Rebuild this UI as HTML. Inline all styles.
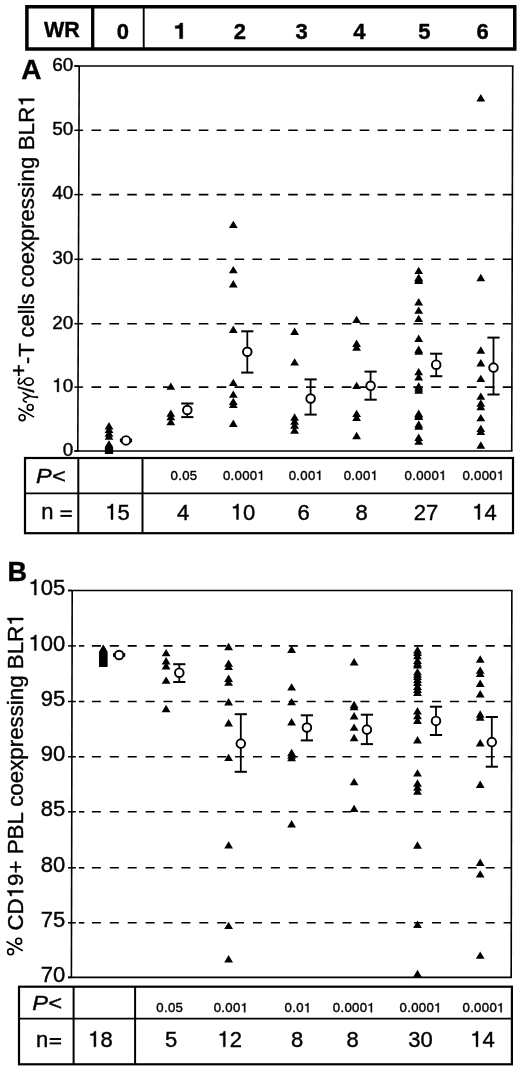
<!DOCTYPE html>
<html><head><meta charset="utf-8"><title>WR BLR1 figure</title>
<style>
html,body{margin:0;padding:0;background:#fff;}
body{width:520px;height:1071px;overflow:hidden;}
svg{display:block;font-family:"Liberation Sans", sans-serif;will-change:transform;}
text{fill:#000;stroke:#000;stroke-width:0.4px;}
.h1{fill-opacity:0;stroke-opacity:0;}
.one{fill:#000;stroke:#000;stroke-width:0.4px;}
</style></head>
<body>
<svg width="520" height="1071" viewBox="0 0 520 1071">
<defs><filter id="scan" x="0" y="0" width="1" height="1" color-interpolation-filters="sRGB"><feGaussianBlur stdDeviation="0.4"/></filter></defs>
<rect x="0" y="0" width="520" height="1071" fill="#fff"/>
<g filter="url(#scan)">
<rect x="0" y="0" width="520" height="1071" fill="#fff"/>
<rect x="26.9" y="6.75" width="487.85" height="42.25" fill="none" stroke="#000" stroke-width="3.5"/>
<line x1="92.7" y1="6.75" x2="92.7" y2="49.0" stroke="#000" stroke-width="3.3" />
<line x1="143.7" y1="6.75" x2="143.7" y2="49.0" stroke="#000" stroke-width="1.9" />
<text x="61.8" y="37.0" font-size="21.5" text-anchor="middle" font-weight="bold" font-style="normal" >WR</text>
<text x="122.8" y="39.2" font-size="22" text-anchor="middle" font-weight="bold" font-style="normal" >0</text>
<path d="M179.5,38.7H182.8V22.9H180.2C179.8,24.9 178.1,25.7 175.2,25.8V28.5H179.5Z" stroke="#000" stroke-width="0.3"/>
<text x="239.8" y="39.2" font-size="22" text-anchor="middle" font-weight="bold" font-style="normal" >2</text>
<text x="301.5" y="39.2" font-size="22" text-anchor="middle" font-weight="bold" font-style="normal" >3</text>
<text x="359.4" y="39.2" font-size="22" text-anchor="middle" font-weight="bold" font-style="normal" >4</text>
<text x="424.3" y="39.2" font-size="22" text-anchor="middle" font-weight="bold" font-style="normal" >5</text>
<text x="482.7" y="39.2" font-size="22" text-anchor="middle" font-weight="bold" font-style="normal" >6</text>
<line x1="91.5" y1="130.3" x2="512.7" y2="130.3" stroke="#000" stroke-width="1.6" stroke-dasharray="9.6 8.28"/>
<line x1="91.5" y1="194.6" x2="512.7" y2="194.6" stroke="#000" stroke-width="1.6" stroke-dasharray="9.6 8.28"/>
<line x1="91.5" y1="259.3" x2="512.7" y2="259.3" stroke="#000" stroke-width="1.6" stroke-dasharray="9.6 8.28"/>
<line x1="91.5" y1="323.7" x2="512.7" y2="323.7" stroke="#000" stroke-width="1.6" stroke-dasharray="9.6 8.28"/>
<line x1="91.5" y1="387.1" x2="512.7" y2="387.1" stroke="#000" stroke-width="1.6" stroke-dasharray="9.6 8.28"/>
<line x1="79.2" y1="66.0" x2="77.8" y2="451.0" stroke="#000" stroke-width="1.6" />
<line x1="74.4" y1="66.0" x2="513.5" y2="66.0" stroke="#000" stroke-width="1.5" />
<line x1="512.7" y1="66.0" x2="511.7" y2="451.0" stroke="#000" stroke-width="1.6" />
<line x1="74.4" y1="451.0" x2="512.5" y2="451.0" stroke="#000" stroke-width="1.6" />
<line x1="74.4" y1="66.0" x2="79.2" y2="66.0" stroke="#000" stroke-width="1.5" />
<text x="73.3" y="70.8" font-size="19" text-anchor="end" font-weight="normal" font-style="normal" >60</text>
<line x1="74.4" y1="130.3" x2="83.1" y2="130.3" stroke="#000" stroke-width="1.5" />
<text x="73.3" y="135.10000000000002" font-size="19" text-anchor="end" font-weight="normal" font-style="normal" >50</text>
<line x1="74.4" y1="194.6" x2="83.1" y2="194.6" stroke="#000" stroke-width="1.5" />
<text x="73.3" y="199.4" font-size="19" text-anchor="end" font-weight="normal" font-style="normal" >40</text>
<line x1="74.4" y1="259.3" x2="83.1" y2="259.3" stroke="#000" stroke-width="1.5" />
<text x="73.3" y="264.1" font-size="19" text-anchor="end" font-weight="normal" font-style="normal" >30</text>
<line x1="74.4" y1="323.7" x2="83.1" y2="323.7" stroke="#000" stroke-width="1.5" />
<text x="73.3" y="328.5" font-size="19" text-anchor="end" font-weight="normal" font-style="normal" >20</text>
<line x1="74.4" y1="387.1" x2="83.1" y2="387.1" stroke="#000" stroke-width="1.5" />
<text id="t1" x="73.3" y="391.90000000000003" font-size="19" text-anchor="end" font-weight="normal" font-style="normal" ><tspan class="h1">1</tspan>0</text>
<path class="one" d="M57.12,391.90L58.83,391.90L58.83,378.43L57.54,378.43C57.22,379.93 56.13,380.65 54.04,380.78L54.04,382.11L57.12,382.11Z"/>
<line x1="74.4" y1="451.0" x2="79.2" y2="451.0" stroke="#000" stroke-width="1.5" />
<text x="73.3" y="455.8" font-size="19" text-anchor="end" font-weight="normal" font-style="normal" >0</text>
<text x="21.2" y="79.0" font-size="28" text-anchor="start" font-weight="bold" font-style="normal" >A</text>
<text id="t2" transform="translate(34.2,423.1) rotate(-90)" font-size="22" text-anchor="start"><tspan class="h1">%γ</tspan>/<tspan class="h1">δ</tspan><tspan font-size="22" dy="-8" dx="-2.75">+</tspan><tspan dy="8">-T cells coexpre</tspan><tspan letter-spacing="0.27">ssing BLR<tspan class="h1">1</tspan></tspan></text>
<path class="one" d="M322.39,0.00L324.37,0.00L324.37,-15.60L322.87,-15.60C322.50,-13.86 321.25,-13.02 318.82,-12.87L318.82,-11.33L322.39,-11.33Z" transform="translate(34.2,423.1) rotate(-90)"/>
<path d="M23.1,392.6 C25.5,393.9 28.2,395.4 30.2,396.2 C32.4,396.9 34.6,397.1 36.6,397.2" fill="none" stroke="#000" stroke-width="1.7" stroke-linecap="round"/>
<ellipse cx="37.0" cy="397.25" rx="1.45" ry="1.05"/>
<path d="M30.0,396.3 C27.6,397.0 24.6,397.9 23.5,399.2 C22.9,400.2 23.6,401.5 26.3,402.1" fill="none" stroke="#000" stroke-width="1.6" stroke-linecap="round"/>
<circle cx="22.1" cy="417.7" r="2.95" fill="none" stroke="#000" stroke-width="1.6"/>
<circle cx="30.2" cy="407.45" r="2.95" fill="none" stroke="#000" stroke-width="1.6"/>
<path d="M18.3,408.2L34.1,417.1" fill="none" stroke="#000" stroke-width="1.6"/>
<ellipse cx="28.75" cy="381.6" rx="4.45" ry="3.6" fill="none" stroke="#000" stroke-width="1.7"/>
<path d="M24.6,380.0 C22.6,382.2 20.0,384.6 18.9,383.8 C17.9,383.0 18.1,380.2 19.6,378.4" fill="none" stroke="#000" stroke-width="1.7" stroke-linecap="round"/>
<path d="M109.00 422.10L113.40 429.50L104.60 429.50Z"/>
<path d="M109.00 425.70L113.40 433.10L104.60 433.10Z"/>
<path d="M109.00 429.30L113.40 436.70L104.60 436.70Z"/>
<path d="M109.00 432.40L113.40 439.80L104.60 439.80Z"/>
<path d="M109.00 440.20L113.40 447.60L104.60 447.60Z"/>
<path d="M109.00 441.00L113.40 448.40L104.60 448.40Z"/>
<path d="M109.00 441.80L113.40 449.20L104.60 449.20Z"/>
<path d="M109.00 442.80L113.40 450.20L104.60 450.20Z"/>
<path d="M109.00 443.80L113.40 451.20L104.60 451.20Z"/>
<path d="M109.00 444.80L113.40 452.20L104.60 452.20Z"/>
<path d="M109.00 445.80L113.40 453.20L104.60 453.20Z"/>
<path d="M109.00 446.70L113.40 454.10L104.60 454.10Z"/>
<path d="M170.80 382.40L175.20 389.80L166.40 389.80Z"/>
<path d="M170.80 409.40L175.20 416.80L166.40 416.80Z"/>
<path d="M170.80 412.90L175.20 420.30L166.40 420.30Z"/>
<path d="M170.80 417.90L175.20 425.30L166.40 425.30Z"/>
<path d="M233.30 220.70L237.70 228.10L228.90 228.10Z"/>
<path d="M233.30 265.90L237.70 273.30L228.90 273.30Z"/>
<path d="M233.30 280.00L237.70 287.40L228.90 287.40Z"/>
<path d="M233.30 325.60L237.70 333.00L228.90 333.00Z"/>
<path d="M233.30 378.70L237.70 386.10L228.90 386.10Z"/>
<path d="M233.30 390.40L237.70 397.80L228.90 397.80Z"/>
<path d="M233.30 397.70L237.70 405.10L228.90 405.10Z"/>
<path d="M233.30 400.60L237.70 408.00L228.90 408.00Z"/>
<path d="M233.30 419.50L237.70 426.90L228.90 426.90Z"/>
<path d="M294.60 327.60L299.00 335.00L290.20 335.00Z"/>
<path d="M294.60 358.20L299.00 365.60L290.20 365.60Z"/>
<path d="M294.60 413.30L299.00 420.70L290.20 420.70Z"/>
<path d="M294.60 417.30L299.00 424.70L290.20 424.70Z"/>
<path d="M294.60 421.30L299.00 428.70L290.20 428.70Z"/>
<path d="M294.60 426.30L299.00 433.70L290.20 433.70Z"/>
<path d="M356.60 315.70L361.00 323.10L352.20 323.10Z"/>
<path d="M356.60 339.60L361.00 347.00L352.20 347.00Z"/>
<path d="M356.60 343.30L361.00 350.70L352.20 350.70Z"/>
<path d="M356.60 381.70L361.00 389.10L352.20 389.10Z"/>
<path d="M356.60 409.70L361.00 417.10L352.20 417.10Z"/>
<path d="M356.60 413.50L361.00 420.90L352.20 420.90Z"/>
<path d="M356.60 431.80L361.00 439.20L352.20 439.20Z"/>
<path d="M418.70 266.70L423.10 274.10L414.30 274.10Z"/>
<path d="M418.70 273.70L423.10 281.10L414.30 281.10Z"/>
<path d="M418.70 275.10L423.10 282.50L414.30 282.50Z"/>
<path d="M418.70 276.50L423.10 283.90L414.30 283.90Z"/>
<path d="M418.70 298.00L423.10 305.40L414.30 305.40Z"/>
<path d="M418.70 306.40L423.10 313.80L414.30 313.80Z"/>
<path d="M418.70 314.70L423.10 322.10L414.30 322.10Z"/>
<path d="M418.70 334.60L423.10 342.00L414.30 342.00Z"/>
<path d="M418.70 345.60L423.10 353.00L414.30 353.00Z"/>
<path d="M418.70 347.30L423.10 354.70L414.30 354.70Z"/>
<path d="M418.70 367.90L423.10 375.30L414.30 375.30Z"/>
<path d="M418.70 373.10L423.10 380.50L414.30 380.50Z"/>
<path d="M418.70 382.30L423.10 389.70L414.30 389.70Z"/>
<path d="M418.70 384.30L423.10 391.70L414.30 391.70Z"/>
<path d="M418.70 386.30L423.10 393.70L414.30 393.70Z"/>
<path d="M418.70 409.60L423.10 417.00L414.30 417.00Z"/>
<path d="M418.70 411.10L423.10 418.50L414.30 418.50Z"/>
<path d="M418.70 412.60L423.10 420.00L414.30 420.00Z"/>
<path d="M418.70 420.30L423.10 427.70L414.30 427.70Z"/>
<path d="M418.70 422.30L423.10 429.70L414.30 429.70Z"/>
<path d="M418.70 433.60L423.10 441.00L414.30 441.00Z"/>
<path d="M418.70 437.40L423.10 444.80L414.30 444.80Z"/>
<path d="M480.80 94.10L485.20 101.50L476.40 101.50Z"/>
<path d="M480.80 273.80L485.20 281.20L476.40 281.20Z"/>
<path d="M480.80 346.30L485.20 353.70L476.40 353.70Z"/>
<path d="M480.80 359.00L485.20 366.40L476.40 366.40Z"/>
<path d="M480.80 374.70L485.20 382.10L476.40 382.10Z"/>
<path d="M480.80 392.40L485.20 399.80L476.40 399.80Z"/>
<path d="M480.80 399.30L485.20 406.70L476.40 406.70Z"/>
<path d="M480.80 402.80L485.20 410.20L476.40 410.20Z"/>
<path d="M480.80 413.90L485.20 421.30L476.40 421.30Z"/>
<path d="M480.80 424.70L485.20 432.10L476.40 432.10Z"/>
<path d="M480.80 427.70L485.20 435.10L476.40 435.10Z"/>
<path d="M480.80 441.30L485.20 448.70L476.40 448.70Z"/>
<line x1="126.0" y1="439.6" x2="126.0" y2="441.2" stroke="#000" stroke-width="1.8" />
<line x1="119.9" y1="439.6" x2="132.1" y2="439.6" stroke="#000" stroke-width="2" />
<line x1="119.9" y1="441.2" x2="132.1" y2="441.2" stroke="#000" stroke-width="2" />
<circle cx="126.0" cy="440.4" r="4.3" fill="#fff" stroke="#000" stroke-width="1.9"/>
<line x1="187.3" y1="403.5" x2="187.3" y2="417.1" stroke="#000" stroke-width="1.8" />
<line x1="181.20000000000002" y1="403.5" x2="193.4" y2="403.5" stroke="#000" stroke-width="2" />
<line x1="181.20000000000002" y1="417.1" x2="193.4" y2="417.1" stroke="#000" stroke-width="2" />
<circle cx="187.3" cy="410.0" r="4.3" fill="#fff" stroke="#000" stroke-width="1.9"/>
<line x1="247.3" y1="331.3" x2="247.3" y2="372.6" stroke="#000" stroke-width="1.8" />
<line x1="241.20000000000002" y1="331.3" x2="253.4" y2="331.3" stroke="#000" stroke-width="2" />
<line x1="241.20000000000002" y1="372.6" x2="253.4" y2="372.6" stroke="#000" stroke-width="2" />
<circle cx="247.3" cy="351.75" r="4.3" fill="#fff" stroke="#000" stroke-width="1.9"/>
<line x1="310.6" y1="379.4" x2="310.6" y2="414.6" stroke="#000" stroke-width="1.8" />
<line x1="304.5" y1="379.4" x2="316.70000000000005" y2="379.4" stroke="#000" stroke-width="2" />
<line x1="304.5" y1="414.6" x2="316.70000000000005" y2="414.6" stroke="#000" stroke-width="2" />
<circle cx="310.6" cy="398.5" r="4.3" fill="#fff" stroke="#000" stroke-width="1.9"/>
<line x1="370.6" y1="371.6" x2="370.6" y2="399.7" stroke="#000" stroke-width="1.8" />
<line x1="364.5" y1="371.6" x2="376.70000000000005" y2="371.6" stroke="#000" stroke-width="2" />
<line x1="364.5" y1="399.7" x2="376.70000000000005" y2="399.7" stroke="#000" stroke-width="2" />
<circle cx="370.6" cy="385.8" r="4.3" fill="#fff" stroke="#000" stroke-width="1.9"/>
<line x1="436.2" y1="353.7" x2="436.2" y2="376.2" stroke="#000" stroke-width="1.8" />
<line x1="430.09999999999997" y1="353.7" x2="442.3" y2="353.7" stroke="#000" stroke-width="2" />
<line x1="430.09999999999997" y1="376.2" x2="442.3" y2="376.2" stroke="#000" stroke-width="2" />
<circle cx="436.2" cy="364.7" r="4.3" fill="#fff" stroke="#000" stroke-width="1.9"/>
<line x1="493.5" y1="337.6" x2="493.5" y2="394.5" stroke="#000" stroke-width="1.8" />
<line x1="487.4" y1="337.6" x2="499.6" y2="337.6" stroke="#000" stroke-width="2" />
<line x1="487.4" y1="394.5" x2="499.6" y2="394.5" stroke="#000" stroke-width="2" />
<circle cx="493.5" cy="367.6" r="4.3" fill="#fff" stroke="#000" stroke-width="1.9"/>
<rect x="25.0" y="458.0" width="488.0" height="75.20000000000005" fill="none" stroke="#000" stroke-width="2.2"/>
<line x1="25.0" y1="493.3" x2="513.0" y2="493.3" stroke="#000" stroke-width="1.8" />
<line x1="78.3" y1="458.0" x2="78.3" y2="533.2" stroke="#000" stroke-width="2" />
<line x1="142.5" y1="458.0" x2="142.5" y2="533.2" stroke="#000" stroke-width="2" />
<text x="36.0" y="483.0" font-size="21" text-anchor="start" font-weight="normal" font-style="italic" textLength="29.5" lengthAdjust="spacingAndGlyphs">P&lt;</text>
<text x="41.3" y="519.4" font-size="22" text-anchor="start" font-weight="normal" font-style="normal" >n</text>
<rect x="60.4" y="510.35" width="11.399999999999999" height="1.9"/>
<rect x="60.4" y="514.9499999999999" width="11.399999999999999" height="1.9"/>
<text x="184.0" y="480.0" font-size="13.2" text-anchor="middle" font-weight="normal" font-style="normal" letter-spacing="0.3">0.05</text>
<text id="t3" x="244.0" y="480.0" font-size="13.2" text-anchor="middle" font-weight="normal" font-style="normal" letter-spacing="0.3">0.000<tspan class="h1">1</tspan></text>
<path class="one" d="M260.90,480.00L262.08,480.00L262.08,470.64L261.19,470.64C260.96,471.68 260.21,472.19 258.76,472.28L258.76,473.20L260.90,473.20Z"/>
<text id="t4" x="306.0" y="480.0" font-size="13.2" text-anchor="middle" font-weight="normal" font-style="normal" letter-spacing="0.3">0.00<tspan class="h1">1</tspan></text>
<path class="one" d="M319.08,480.00L320.26,480.00L320.26,470.64L319.37,470.64C319.14,471.68 318.39,472.19 316.94,472.28L316.94,473.20L319.08,473.20Z"/>
<text id="t5" x="361.0" y="480.0" font-size="13.2" text-anchor="middle" font-weight="normal" font-style="normal" letter-spacing="0.3">0.00<tspan class="h1">1</tspan></text>
<path class="one" d="M374.08,480.00L375.26,480.00L375.26,470.64L374.37,470.64C374.14,471.68 373.39,472.19 371.94,472.28L371.94,473.20L374.08,473.20Z"/>
<text id="t6" x="425.7" y="480.0" font-size="13.2" text-anchor="middle" font-weight="normal" font-style="normal" letter-spacing="0.3">0.000<tspan class="h1">1</tspan></text>
<path class="one" d="M442.60,480.00L443.78,480.00L443.78,470.64L442.89,470.64C442.66,471.68 441.91,472.19 440.46,472.28L440.46,473.20L442.60,473.20Z"/>
<text id="t7" x="483.5" y="480.0" font-size="13.2" text-anchor="middle" font-weight="normal" font-style="normal" letter-spacing="0.3">0.000<tspan class="h1">1</tspan></text>
<path class="one" d="M500.40,480.00L501.58,480.00L501.58,470.64L500.69,470.64C500.46,471.68 499.71,472.19 498.26,472.28L498.26,473.20L500.40,473.20Z"/>
<text id="t8" x="117.5" y="519.5" font-size="22" text-anchor="middle" font-weight="normal" font-style="normal" ><tspan class="h1">1</tspan>5</text>
<path class="one" d="M111.01,519.50L112.99,519.50L112.99,503.90L111.50,503.90C111.12,505.64 109.87,506.48 107.45,506.63L107.45,508.17L111.01,508.17Z"/>
<text x="183.0" y="519.5" font-size="22" text-anchor="middle" font-weight="normal" font-style="normal" >4</text>
<text id="t9" x="243.0" y="519.5" font-size="22" text-anchor="middle" font-weight="normal" font-style="normal" ><tspan class="h1">1</tspan>0</text>
<path class="one" d="M236.51,519.50L238.49,519.50L238.49,503.90L237.00,503.90C236.62,505.64 235.37,506.48 232.95,506.63L232.95,508.17L236.51,508.17Z"/>
<text x="303.5" y="519.5" font-size="22" text-anchor="middle" font-weight="normal" font-style="normal" >6</text>
<text x="361.6" y="519.5" font-size="22" text-anchor="middle" font-weight="normal" font-style="normal" >8</text>
<text x="426.0" y="519.5" font-size="22" text-anchor="middle" font-weight="normal" font-style="normal" >27</text>
<text id="t10" x="484.4" y="519.5" font-size="22" text-anchor="middle" font-weight="normal" font-style="normal" ><tspan class="h1">1</tspan>4</text>
<path class="one" d="M477.91,519.50L479.89,519.50L479.89,503.90L478.40,503.90C478.02,505.64 476.77,506.48 474.35,506.63L474.35,508.17L477.91,508.17Z"/>
<line x1="78.9" y1="645.9" x2="84.3" y2="645.9" stroke="#000" stroke-width="1.6" />
<line x1="91.9" y1="645.9" x2="511.85" y2="645.9" stroke="#000" stroke-width="1.6" stroke-dasharray="9.0 8.899999999999999"/>
<line x1="78.9" y1="701.5" x2="84.3" y2="701.5" stroke="#000" stroke-width="1.6" />
<line x1="91.9" y1="701.5" x2="511.85" y2="701.5" stroke="#000" stroke-width="1.6" stroke-dasharray="9.0 8.899999999999999"/>
<line x1="78.9" y1="756.8" x2="84.3" y2="756.8" stroke="#000" stroke-width="1.6" />
<line x1="91.9" y1="756.8" x2="511.85" y2="756.8" stroke="#000" stroke-width="1.6" stroke-dasharray="9.0 8.899999999999999"/>
<line x1="78.9" y1="811.8" x2="84.3" y2="811.8" stroke="#000" stroke-width="1.6" />
<line x1="91.9" y1="811.8" x2="511.85" y2="811.8" stroke="#000" stroke-width="1.6" stroke-dasharray="9.0 8.899999999999999"/>
<line x1="78.9" y1="867.8" x2="84.3" y2="867.8" stroke="#000" stroke-width="1.6" />
<line x1="91.9" y1="867.8" x2="511.85" y2="867.8" stroke="#000" stroke-width="1.6" stroke-dasharray="9.0 8.899999999999999"/>
<line x1="78.9" y1="922.8" x2="84.3" y2="922.8" stroke="#000" stroke-width="1.6" />
<line x1="91.9" y1="922.8" x2="511.85" y2="922.8" stroke="#000" stroke-width="1.6" stroke-dasharray="9.0 8.899999999999999"/>
<line x1="72.2" y1="590.5" x2="71.4" y2="977.4" stroke="#000" stroke-width="1.6" />
<line x1="68.0" y1="590.5" x2="512.65" y2="590.5" stroke="#000" stroke-width="1.5" />
<line x1="511.85" y1="590.5" x2="511.2" y2="977.4" stroke="#000" stroke-width="1.6" />
<line x1="68.0" y1="977.4" x2="512.0" y2="977.4" stroke="#000" stroke-width="1.6" />
<line x1="68.0" y1="590.5" x2="72.2" y2="590.5" stroke="#000" stroke-width="1.5" />
<text id="t11" x="65.3" y="595.1" font-size="22" text-anchor="end" font-weight="normal" font-style="normal" ><tspan class="h1">1</tspan>05</text>
<path class="one" d="M34.33,595.10L36.31,595.10L36.31,579.50L34.81,579.50C34.44,581.24 33.19,582.08 30.77,582.23L30.77,583.77L34.33,583.77Z"/>
<line x1="68.0" y1="645.9" x2="75.8" y2="645.9" stroke="#000" stroke-width="1.5" />
<text id="t12" x="65.3" y="650.5" font-size="22" text-anchor="end" font-weight="normal" font-style="normal" ><tspan class="h1">1</tspan>00</text>
<path class="one" d="M34.33,650.50L36.31,650.50L36.31,634.90L34.81,634.90C34.44,636.64 33.19,637.48 30.77,637.63L30.77,639.17L34.33,639.17Z"/>
<line x1="68.0" y1="701.5" x2="75.8" y2="701.5" stroke="#000" stroke-width="1.5" />
<text x="65.3" y="706.1" font-size="22" text-anchor="end" font-weight="normal" font-style="normal" >95</text>
<line x1="68.0" y1="756.8" x2="75.8" y2="756.8" stroke="#000" stroke-width="1.5" />
<text x="65.3" y="761.4" font-size="22" text-anchor="end" font-weight="normal" font-style="normal" >90</text>
<line x1="68.0" y1="811.8" x2="75.8" y2="811.8" stroke="#000" stroke-width="1.5" />
<text x="65.3" y="816.4" font-size="22" text-anchor="end" font-weight="normal" font-style="normal" >85</text>
<line x1="68.0" y1="867.8" x2="75.8" y2="867.8" stroke="#000" stroke-width="1.5" />
<text x="65.3" y="872.4" font-size="22" text-anchor="end" font-weight="normal" font-style="normal" >80</text>
<line x1="68.0" y1="922.8" x2="75.8" y2="922.8" stroke="#000" stroke-width="1.5" />
<text x="65.3" y="927.4" font-size="22" text-anchor="end" font-weight="normal" font-style="normal" >75</text>
<line x1="68.0" y1="977.4" x2="72.2" y2="977.4" stroke="#000" stroke-width="1.5" />
<text x="65.3" y="982.0" font-size="22" text-anchor="end" font-weight="normal" font-style="normal" >70</text>
<text x="7.5" y="581.4" font-size="27" text-anchor="start" font-weight="bold" font-style="normal" >B</text>
<text id="t13" transform="translate(23.2,785.0) rotate(-90)" font-size="22.3" text-anchor="middle"><tspan class="h1">%</tspan> CD<tspan class="h1">1</tspan>9+ PBL coexpressing BLR<tspan class="h1">1</tspan></text>
<path class="one" d="M-107.49,0.00L-105.48,0.00L-105.48,-15.81L-106.99,-15.81C-107.37,-14.05 -108.65,-13.20 -111.10,-13.05L-111.10,-11.48L-107.49,-11.48Z" transform="translate(23.2,785.0) rotate(-90)"/>
<path class="one" d="M165.00,0.00L167.01,0.00L167.01,-15.81L165.49,-15.81C165.11,-14.05 163.84,-13.20 161.39,-13.05L161.39,-11.48L165.00,-11.48Z" transform="translate(23.2,785.0) rotate(-90)"/>
<circle cx="18.65" cy="941.15" r="2.95" fill="none" stroke="#000" stroke-width="1.6"/>
<circle cx="10.6" cy="951.8" r="2.95" fill="none" stroke="#000" stroke-width="1.6"/>
<path d="M6.5,941.5L22.7,950.8" fill="none" stroke="#000" stroke-width="1.6"/>
<path d="M103.30 644.50L107.70 651.90L98.90 651.90Z"/>
<path d="M103.30 645.00L107.70 652.40L98.90 652.40Z"/>
<path d="M103.30 645.50L107.70 652.90L98.90 652.90Z"/>
<path d="M103.30 646.00L107.70 653.40L98.90 653.40Z"/>
<path d="M103.30 646.50L107.70 653.90L98.90 653.90Z"/>
<path d="M103.30 647.00L107.70 654.40L98.90 654.40Z"/>
<path d="M103.30 647.50L107.70 654.90L98.90 654.90Z"/>
<path d="M103.30 648.00L107.70 655.40L98.90 655.40Z"/>
<path d="M103.30 648.50L107.70 655.90L98.90 655.90Z"/>
<path d="M103.30 649.00L107.70 656.40L98.90 656.40Z"/>
<path d="M103.30 649.50L107.70 656.90L98.90 656.90Z"/>
<path d="M103.30 650.00L107.70 657.40L98.90 657.40Z"/>
<path d="M103.30 650.50L107.70 657.90L98.90 657.90Z"/>
<path d="M103.30 651.00L107.70 658.40L98.90 658.40Z"/>
<path d="M103.30 651.50L107.70 658.90L98.90 658.90Z"/>
<path d="M103.30 652.00L107.70 659.40L98.90 659.40Z"/>
<path d="M103.30 652.50L107.70 659.90L98.90 659.90Z"/>
<path d="M103.30 653.00L107.70 660.40L98.90 660.40Z"/>
<path d="M103.30 653.50L107.70 660.90L98.90 660.90Z"/>
<path d="M103.30 654.00L107.70 661.40L98.90 661.40Z"/>
<path d="M103.30 654.50L107.70 661.90L98.90 661.90Z"/>
<path d="M103.30 655.00L107.70 662.40L98.90 662.40Z"/>
<path d="M103.30 655.50L107.70 662.90L98.90 662.90Z"/>
<path d="M103.30 656.00L107.70 663.40L98.90 663.40Z"/>
<path d="M103.30 656.50L107.70 663.90L98.90 663.90Z"/>
<path d="M103.30 657.00L107.70 664.40L98.90 664.40Z"/>
<path d="M103.30 657.50L107.70 664.90L98.90 664.90Z"/>
<path d="M103.30 658.00L107.70 665.40L98.90 665.40Z"/>
<path d="M103.30 658.50L107.70 665.90L98.90 665.90Z"/>
<path d="M103.30 659.00L107.70 666.40L98.90 666.40Z"/>
<path d="M103.30 659.50L107.70 666.90L98.90 666.90Z"/>
<path d="M166.10 648.90L170.50 656.30L161.70 656.30Z"/>
<path d="M166.10 657.00L170.50 664.40L161.70 664.40Z"/>
<path d="M166.10 662.00L170.50 669.40L161.70 669.40Z"/>
<path d="M166.10 676.40L170.50 683.80L161.70 683.80Z"/>
<path d="M166.10 704.80L170.50 712.20L161.70 712.20Z"/>
<path d="M228.60 642.80L233.00 650.20L224.20 650.20Z"/>
<path d="M228.60 659.40L233.00 666.80L224.20 666.80Z"/>
<path d="M228.60 662.70L233.00 670.10L224.20 670.10Z"/>
<path d="M228.60 674.50L233.00 681.90L224.20 681.90Z"/>
<path d="M228.60 678.40L233.00 685.80L224.20 685.80Z"/>
<path d="M228.60 698.10L233.00 705.50L224.20 705.50Z"/>
<path d="M228.60 719.00L233.00 726.40L224.20 726.40Z"/>
<path d="M228.60 753.70L233.00 761.10L224.20 761.10Z"/>
<path d="M228.60 841.20L233.00 848.60L224.20 848.60Z"/>
<path d="M228.60 921.70L233.00 929.10L224.20 929.10Z"/>
<path d="M228.60 955.10L233.00 962.50L224.20 962.50Z"/>
<path d="M291.60 645.50L296.00 652.90L287.20 652.90Z"/>
<path d="M291.60 683.20L296.00 690.60L287.20 690.60Z"/>
<path d="M291.60 697.90L296.00 705.30L287.20 705.30Z"/>
<path d="M291.60 718.10L296.00 725.50L287.20 725.50Z"/>
<path d="M291.60 748.80L296.00 756.20L287.20 756.20Z"/>
<path d="M291.60 751.30L296.00 758.70L287.20 758.70Z"/>
<path d="M291.60 753.80L296.00 761.20L287.20 761.20Z"/>
<path d="M291.60 820.00L296.00 827.40L287.20 827.40Z"/>
<path d="M354.10 658.10L358.50 665.50L349.70 665.50Z"/>
<path d="M354.10 700.80L358.50 708.20L349.70 708.20Z"/>
<path d="M354.10 702.80L358.50 710.20L349.70 710.20Z"/>
<path d="M354.10 712.00L358.50 719.40L349.70 719.40Z"/>
<path d="M354.10 723.40L358.50 730.80L349.70 730.80Z"/>
<path d="M354.10 733.80L358.50 741.20L349.70 741.20Z"/>
<path d="M354.10 777.90L358.50 785.30L349.70 785.30Z"/>
<path d="M354.10 804.70L358.50 812.10L349.70 812.10Z"/>
<path d="M417.50 646.10L421.90 653.50L413.10 653.50Z"/>
<path d="M417.50 648.60L421.90 656.00L413.10 656.00Z"/>
<path d="M417.50 651.90L421.90 659.30L413.10 659.30Z"/>
<path d="M417.50 656.60L421.90 664.00L413.10 664.00Z"/>
<path d="M417.50 659.30L421.90 666.70L413.10 666.70Z"/>
<path d="M417.50 661.20L421.90 668.60L413.10 668.60Z"/>
<path d="M417.50 667.90L421.90 675.30L413.10 675.30Z"/>
<path d="M417.50 670.30L421.90 677.70L413.10 677.70Z"/>
<path d="M417.50 672.60L421.90 680.00L413.10 680.00Z"/>
<path d="M417.50 675.60L421.90 683.00L413.10 683.00Z"/>
<path d="M417.50 678.60L421.90 686.00L413.10 686.00Z"/>
<path d="M417.50 682.60L421.90 690.00L413.10 690.00Z"/>
<path d="M417.50 685.60L421.90 693.00L413.10 693.00Z"/>
<path d="M417.50 688.60L421.90 696.00L413.10 696.00Z"/>
<path d="M417.50 707.10L421.90 714.50L413.10 714.50Z"/>
<path d="M417.50 711.80L421.90 719.20L413.10 719.20Z"/>
<path d="M417.50 716.60L421.90 724.00L413.10 724.00Z"/>
<path d="M417.50 736.10L421.90 743.50L413.10 743.50Z"/>
<path d="M417.50 769.20L421.90 776.60L413.10 776.60Z"/>
<path d="M417.50 779.30L421.90 786.70L413.10 786.70Z"/>
<path d="M417.50 783.30L421.90 790.70L413.10 790.70Z"/>
<path d="M417.50 787.30L421.90 794.70L413.10 794.70Z"/>
<path d="M417.50 841.30L421.90 848.70L413.10 848.70Z"/>
<path d="M417.50 920.60L421.90 928.00L413.10 928.00Z"/>
<path d="M417.50 969.80L421.90 977.20L413.10 977.20Z"/>
<path d="M480.20 655.30L484.60 662.70L475.80 662.70Z"/>
<path d="M480.20 666.40L484.60 673.80L475.80 673.80Z"/>
<path d="M480.20 669.70L484.60 677.10L475.80 677.10Z"/>
<path d="M480.20 679.50L484.60 686.90L475.80 686.90Z"/>
<path d="M480.20 690.00L484.60 697.40L475.80 697.40Z"/>
<path d="M480.20 710.30L484.60 717.70L475.80 717.70Z"/>
<path d="M480.20 713.30L484.60 720.70L475.80 720.70Z"/>
<path d="M480.20 739.00L484.60 746.40L475.80 746.40Z"/>
<path d="M480.20 780.50L484.60 787.90L475.80 787.90Z"/>
<path d="M480.20 858.50L484.60 865.90L475.80 865.90Z"/>
<path d="M480.20 870.20L484.60 877.60L475.80 877.60Z"/>
<path d="M480.20 951.40L484.60 958.80L475.80 958.80Z"/>
<line x1="119.1" y1="654.2" x2="119.1" y2="655.8" stroke="#000" stroke-width="1.8" />
<line x1="113.0" y1="654.2" x2="125.19999999999999" y2="654.2" stroke="#000" stroke-width="2" />
<line x1="113.0" y1="655.8" x2="125.19999999999999" y2="655.8" stroke="#000" stroke-width="2" />
<circle cx="119.1" cy="655.0" r="4.3" fill="#fff" stroke="#000" stroke-width="1.9"/>
<line x1="179.3" y1="664.2" x2="179.3" y2="682.0" stroke="#000" stroke-width="1.8" />
<line x1="173.20000000000002" y1="664.2" x2="185.4" y2="664.2" stroke="#000" stroke-width="2" />
<line x1="173.20000000000002" y1="682.0" x2="185.4" y2="682.0" stroke="#000" stroke-width="2" />
<circle cx="179.3" cy="672.7" r="4.3" fill="#fff" stroke="#000" stroke-width="1.9"/>
<line x1="240.8" y1="714.2" x2="240.8" y2="771.8" stroke="#000" stroke-width="1.8" />
<line x1="234.70000000000002" y1="714.2" x2="246.9" y2="714.2" stroke="#000" stroke-width="2" />
<line x1="234.70000000000002" y1="771.8" x2="246.9" y2="771.8" stroke="#000" stroke-width="2" />
<circle cx="240.8" cy="743.6" r="4.3" fill="#fff" stroke="#000" stroke-width="1.9"/>
<line x1="306.9" y1="715.3" x2="306.9" y2="740.4" stroke="#000" stroke-width="1.8" />
<line x1="300.79999999999995" y1="715.3" x2="313.0" y2="715.3" stroke="#000" stroke-width="2" />
<line x1="300.79999999999995" y1="740.4" x2="313.0" y2="740.4" stroke="#000" stroke-width="2" />
<circle cx="306.9" cy="727.5" r="4.3" fill="#fff" stroke="#000" stroke-width="1.9"/>
<line x1="366.9" y1="714.7" x2="366.9" y2="744.1" stroke="#000" stroke-width="1.8" />
<line x1="360.79999999999995" y1="714.7" x2="373.0" y2="714.7" stroke="#000" stroke-width="2" />
<line x1="360.79999999999995" y1="744.1" x2="373.0" y2="744.1" stroke="#000" stroke-width="2" />
<circle cx="366.9" cy="729.6" r="4.3" fill="#fff" stroke="#000" stroke-width="1.9"/>
<line x1="436.0" y1="706.7" x2="436.0" y2="735.0" stroke="#000" stroke-width="1.8" />
<line x1="429.9" y1="706.7" x2="442.1" y2="706.7" stroke="#000" stroke-width="2" />
<line x1="429.9" y1="735.0" x2="442.1" y2="735.0" stroke="#000" stroke-width="2" />
<circle cx="436.0" cy="720.9" r="4.3" fill="#fff" stroke="#000" stroke-width="1.9"/>
<line x1="491.8" y1="717.0" x2="491.8" y2="766.7" stroke="#000" stroke-width="1.8" />
<line x1="485.7" y1="717.0" x2="497.90000000000003" y2="717.0" stroke="#000" stroke-width="2" />
<line x1="485.7" y1="766.7" x2="497.90000000000003" y2="766.7" stroke="#000" stroke-width="2" />
<circle cx="491.8" cy="742.1" r="4.3" fill="#fff" stroke="#000" stroke-width="1.9"/>
<rect x="19.0" y="986.7" width="492.9" height="77.59999999999991" fill="none" stroke="#000" stroke-width="2.2"/>
<line x1="19.0" y1="1018.6" x2="511.9" y2="1018.6" stroke="#000" stroke-width="1.8" />
<line x1="73.6" y1="986.7" x2="73.6" y2="1064.3" stroke="#000" stroke-width="2" />
<line x1="135.1" y1="986.7" x2="135.1" y2="1064.3" stroke="#000" stroke-width="2" />
<text x="32.3" y="1009.6" font-size="21" text-anchor="start" font-weight="normal" font-style="italic" textLength="29.5" lengthAdjust="spacingAndGlyphs">P&lt;</text>
<text x="36.0" y="1046.6" font-size="22" text-anchor="start" font-weight="normal" font-style="normal" >n</text>
<rect x="49.6" y="1038.05" width="11.5" height="1.9"/>
<rect x="49.6" y="1042.45" width="11.5" height="1.9"/>
<text x="169.8" y="1012.3" font-size="13.2" text-anchor="middle" font-weight="normal" font-style="normal" letter-spacing="0.3">0.05</text>
<text id="t14" x="231.0" y="1012.3" font-size="13.2" text-anchor="middle" font-weight="normal" font-style="normal" letter-spacing="0.3">0.00<tspan class="h1">1</tspan></text>
<path class="one" d="M244.08,1012.30L245.26,1012.30L245.26,1002.94L244.37,1002.94C244.14,1003.98 243.39,1004.49 241.94,1004.58L241.94,1005.50L244.08,1005.50Z"/>
<text id="t15" x="298.0" y="1012.3" font-size="13.2" text-anchor="middle" font-weight="normal" font-style="normal" letter-spacing="0.3">0.0<tspan class="h1">1</tspan></text>
<path class="one" d="M307.26,1012.30L308.44,1012.30L308.44,1002.94L307.55,1002.94C307.32,1003.98 306.57,1004.49 305.12,1004.58L305.12,1005.50L307.26,1005.50Z"/>
<text id="t16" x="353.9" y="1012.3" font-size="13.2" text-anchor="middle" font-weight="normal" font-style="normal" letter-spacing="0.3">0.000<tspan class="h1">1</tspan></text>
<path class="one" d="M370.80,1012.30L371.98,1012.30L371.98,1002.94L371.09,1002.94C370.86,1003.98 370.11,1004.49 368.66,1004.58L368.66,1005.50L370.80,1005.50Z"/>
<text id="t17" x="420.7" y="1012.3" font-size="13.2" text-anchor="middle" font-weight="normal" font-style="normal" letter-spacing="0.3">0.000<tspan class="h1">1</tspan></text>
<path class="one" d="M437.60,1012.30L438.78,1012.30L438.78,1002.94L437.89,1002.94C437.66,1003.98 436.91,1004.49 435.46,1004.58L435.46,1005.50L437.60,1005.50Z"/>
<text id="t18" x="483.6" y="1012.3" font-size="13.2" text-anchor="middle" font-weight="normal" font-style="normal" letter-spacing="0.3">0.000<tspan class="h1">1</tspan></text>
<path class="one" d="M500.50,1012.30L501.68,1012.30L501.68,1002.94L500.79,1002.94C500.56,1003.98 499.81,1004.49 498.36,1004.58L498.36,1005.50L500.50,1005.50Z"/>
<text id="t19" x="100.4" y="1046.8" font-size="22" text-anchor="middle" font-weight="normal" font-style="normal" ><tspan class="h1">1</tspan>8</text>
<path class="one" d="M93.91,1046.80L95.89,1046.80L95.89,1031.20L94.40,1031.20C94.02,1032.94 92.77,1033.78 90.35,1033.93L90.35,1035.47L93.91,1035.47Z"/>
<text x="171.0" y="1046.8" font-size="22" text-anchor="middle" font-weight="normal" font-style="normal" >5</text>
<text id="t20" x="229.8" y="1046.8" font-size="22" text-anchor="middle" font-weight="normal" font-style="normal" ><tspan class="h1">1</tspan>2</text>
<path class="one" d="M223.31,1046.80L225.29,1046.80L225.29,1031.20L223.80,1031.20C223.42,1032.94 222.17,1033.78 219.75,1033.93L219.75,1035.47L223.31,1035.47Z"/>
<text x="297.0" y="1046.8" font-size="22" text-anchor="middle" font-weight="normal" font-style="normal" >8</text>
<text x="352.7" y="1046.8" font-size="22" text-anchor="middle" font-weight="normal" font-style="normal" >8</text>
<text x="420.4" y="1046.8" font-size="22" text-anchor="middle" font-weight="normal" font-style="normal" >30</text>
<text id="t21" x="482.5" y="1046.8" font-size="22" text-anchor="middle" font-weight="normal" font-style="normal" ><tspan class="h1">1</tspan>4</text>
<path class="one" d="M476.01,1046.80L477.99,1046.80L477.99,1031.20L476.50,1031.20C476.12,1032.94 474.87,1033.78 472.45,1033.93L472.45,1035.47L476.01,1035.47Z"/>
</g>
</svg>
</body></html>
